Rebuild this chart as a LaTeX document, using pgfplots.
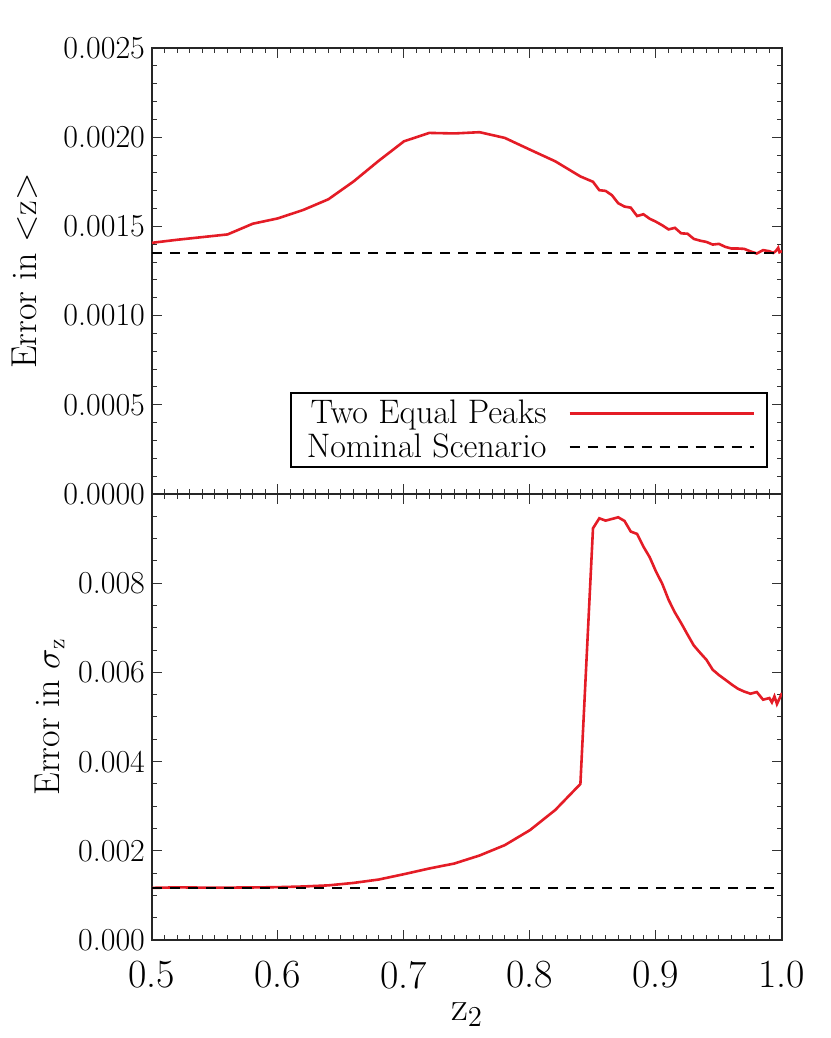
\documentclass[border=0pt]{standalone}
\usepackage{pgfplots}
\pgfplotsset{compat=1.18}
\definecolor{idlred}{RGB}{228,28,38}

\pgfplotsset{
  idlbox/.style={
    width=315pt, height=223pt, scale only axis,
    xmin=0.5, xmax=1.0,
    xtick={0.5,0.6,0.7,0.8,0.9,1.0},
    minor x tick num=9,
    tick align=inside,
    major tick length=5pt, minor tick length=2.5pt,
    axis line style={black!85, line width=0.6pt},
    every tick/.style={black!80, line width=0.5pt},
    tick label style={font=\fontsize{16}{18}\selectfont},
    xticklabel style={font=\fontsize{20}{24}\selectfont, yshift=-7pt},
    ylabel style={font=\fontsize{18}{21}\selectfont},
    xlabel style={font=\fontsize{22}{26}\selectfont},
    scaled y ticks=false,
  },
}

\begin{document}
\begin{tikzpicture}

% lower panel
\begin{axis}[idlbox, name=bottom, at={(0,0)},
    ymin=0, ymax=0.010,
    ytick={0,0.002,0.004,0.006,0.008,0.010},
    yticklabels={0.000,0.002,0.004,0.006,0.008,{}},
    minor y tick num=3,
    xticklabels={0.5,0.6,0.7,0.8,0.9,1.0},
    xlabel={$\mathrm{z}_2$},
    ylabel={Error in $\sigma_{\mathrm{z}}$},
]
\addplot[idlred, line width=1.3pt] coordinates {
(0.500,0.001169) (0.520,0.001180) (0.540,0.001175) (0.560,0.001175)
(0.580,0.001178) (0.600,0.001185) (0.620,0.001200) (0.640,0.001225)
(0.660,0.001280) (0.680,0.001356) (0.700,0.001476) (0.720,0.001603)
(0.740,0.001715) (0.760,0.001895) (0.780,0.002127) (0.800,0.002464)
(0.820,0.002914) (0.840,0.003498) (0.850,0.009231) (0.855,0.009455)
(0.860,0.009403) (0.865,0.009440) (0.870,0.009478) (0.875,0.009396)
(0.880,0.009157) (0.885,0.009105) (0.890,0.008821) (0.895,0.008582)
(0.900,0.008261) (0.905,0.007985) (0.910,0.007627) (0.915,0.007343)
(0.920,0.007104) (0.925,0.006850) (0.930,0.006604) (0.935,0.006440)
(0.940,0.006284) (0.945,0.006060) (0.950,0.005940) (0.955,0.005836)
(0.960,0.005730) (0.965,0.005634) (0.970,0.005570) (0.975,0.005522)
(0.980,0.005560) (0.985,0.005388) (0.990,0.005425) (0.992,0.005328)
(0.994,0.005463) (0.996,0.005291) (1.000,0.005537)
};
\addplot[black, line width=1.1pt, dash pattern=on 5pt off 4pt] coordinates {(0.5,0.00117) (1.0,0.00117)};
\end{axis}

% upper panel
\begin{axis}[idlbox, name=top, at={(0,223pt)},
    ymin=0, ymax=0.0025,
    ytick={0,0.0005,0.0010,0.0015,0.0020,0.0025},
    yticklabels={0.0000,0.0005,0.0010,0.0015,0.0020,0.0025},
    minor y tick num=4,
    xticklabels={},
    ylabel={Error in \textless z\textgreater},
    ylabel shift=6pt,
    legend style={at={(0.978,0.058)}, anchor=south east,
        draw=black, line width=1pt, font=\fontsize{17}{17}\selectfont,
        inner xsep=6pt, inner ysep=3pt, row sep=3pt,
        nodes={inner ysep=0.3pt},
        /tikz/column sep=9pt},
    legend cell align=right,
    legend plot pos=right,
    legend image code/.code={\draw[#1] (0pt,0pt) -- (83pt,0pt);
        \path (0pt,0pt) -- (92pt,0pt);},
]
\addplot[idlred, line width=1.3pt] coordinates {
(0.500,0.001408) (0.520,0.001425) (0.540,0.001440) (0.560,0.001455)
(0.580,0.001515) (0.600,0.001545) (0.620,0.001592) (0.640,0.001652)
(0.660,0.001752) (0.680,0.001868) (0.700,0.001977) (0.720,0.002024)
(0.740,0.002021) (0.760,0.002028) (0.780,0.001996) (0.800,0.001930)
(0.820,0.001865) (0.840,0.001780) (0.850,0.001750) (0.855,0.001703)
(0.860,0.001699) (0.865,0.001675) (0.870,0.001630) (0.875,0.001611)
(0.880,0.001605) (0.885,0.001558) (0.890,0.001568) (0.895,0.001543)
(0.900,0.001526) (0.905,0.001506) (0.910,0.001483) (0.915,0.001492)
(0.920,0.001461) (0.925,0.001459) (0.930,0.001430) (0.935,0.001420)
(0.940,0.001413) (0.945,0.001398) (0.950,0.001402) (0.955,0.001385)
(0.960,0.001376) (0.965,0.001376) (0.970,0.001374) (0.975,0.001360)
(0.980,0.001348) (0.985,0.001367) (0.990,0.001361) (0.993,0.001351)
(0.995,0.001361) (0.997,0.001380) (0.998,0.001355) (1.000,0.001361)
};
\addlegendentry{Two Equal Peaks}
\addplot[black, line width=1.1pt, dash pattern=on 5pt off 4pt] coordinates {(0.5,0.00135) (1.0,0.00135)};
\addlegendentry{Nominal Scenario}
\end{axis}

\pgfresetboundingbox
\path (-76pt,-49pt) rectangle (339pt,470pt);
\end{tikzpicture}
\end{document}
